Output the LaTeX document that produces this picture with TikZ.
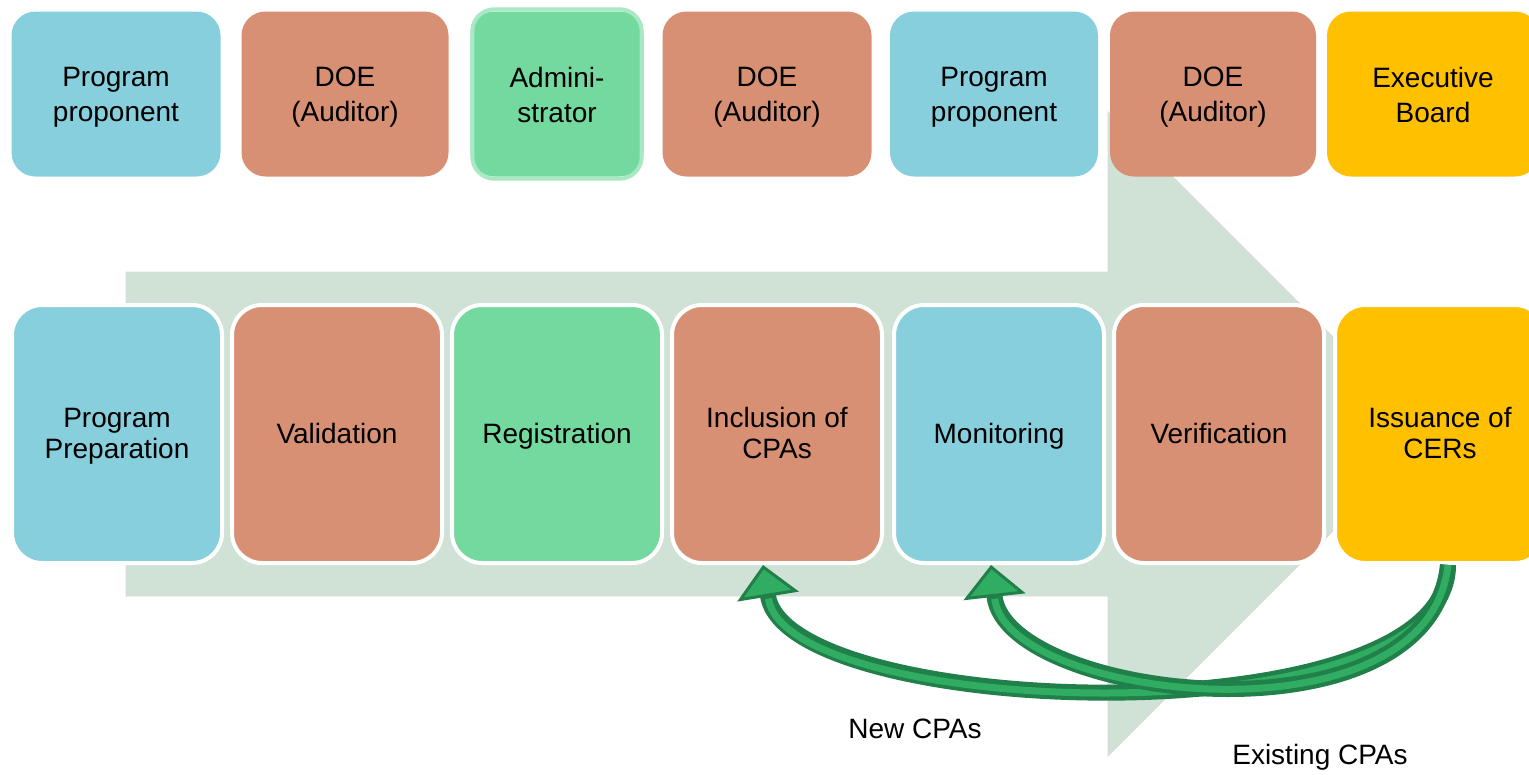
\documentclass[tikz,border=0pt]{standalone}
\usepackage{fontspec}
\setmainfont{Liberation Sans}
\usetikzlibrary{arrows.meta}

\definecolor{propblue}{HTML}{87CFDC}
\definecolor{doeorange}{HTML}{D79073}
\definecolor{admgreen}{HTML}{74D99F}
\definecolor{admrim}{HTML}{A8E8C3}
\definecolor{ebyellow}{HTML}{FFC000}
\definecolor{flowbg}{HTML}{CFE2D5}
\definecolor{loopdark}{HTML}{21804A}
\definecolor{looplight}{HTML}{30AD62}

\newcommand{\rolestrut}{\rule[-4pt]{0pt}{29pt}}
\newcommand{\stagestrut}{\rule[-6pt]{0pt}{30pt}}

\tikzset{
  role/.style={rounded corners=24pt, minimum height=165pt, inner sep=0pt,
    align=center, font=\fontsize{28}{35}\selectfont},
  stage/.style={rounded corners=30pt, draw=white, line width=4pt,
    minimum width=210pt, minimum height=258pt, inner sep=0pt,
    align=center, font=\fontsize{28}{31}\selectfont},
  loop/.style={loopdark, line width=16pt,
    -{Triangle[width=62pt,length=32pt,fill=looplight,line width=3pt]},
    postaction={draw=looplight, line width=7pt, shorten >=34pt, -}},
  lbl/.style={font=\fontsize{28}{32}\selectfont}
}

\begin{document}
\begin{tikzpicture}[x=1pt,y=-1pt]
\useasboundingbox (0,0) rectangle (1529,774);

% big background arrow
\fill[flowbg, draw=black!15, line width=0.8pt]
  (126,272) -- (1108,272) -- (1108,112) -- (1430,434)
  -- (1108,756) -- (1108,596) -- (126,596) -- cycle;

% who does it
\foreach \cx/\w/\col/\txt [count=\i] in
 {116/209/propblue/{Program\rolestrut\\proponent\rolestrut},
  345/207/doeorange/{DOE\rolestrut\\(Auditor)\rolestrut},
  557/173/admgreen/{Admini-\rolestrut\\strator\rolestrut},
  767/209/doeorange/{DOE\rolestrut\\(Auditor)\rolestrut},
  994/208/propblue/{Program\rolestrut\\proponent\rolestrut},
  1213/206/doeorange/{DOE\rolestrut\\(Auditor)\rolestrut},
  1433/212/ebyellow/{Executive\rolestrut\\Board\rolestrut}}
 {\node[role, fill=\col, minimum width=\w pt] (r\i) at (\cx,94) {\txt};
 }
\draw[admrim, line width=4pt, rounded corners=22pt]
  ([shift={(2pt,-2pt)}]r3.south west) rectangle ([shift={(-2pt,2pt)}]r3.north east);

% what is done
\foreach \cx/\col/\txt [count=\i] in
 {117/propblue/{Program\stagestrut\\Preparation\stagestrut},
  337/doeorange/{Validation\stagestrut},
  557/admgreen/{Registration\stagestrut},
  777/doeorange/{Inclusion of\stagestrut\\CPAs\stagestrut},
  999/propblue/{Monitoring\stagestrut},
  1219/doeorange/{Verification\stagestrut},
  1440/ebyellow/{Issuance of\stagestrut\\CERs\stagestrut}}
 {\node[stage, fill=\col] (s\i) at (\cx,434) {\txt};
 }

% issuance loops back
\draw[loop] ([xshift=8pt]s7.south) .. controls +(0,175) and +(25,155) .. ([xshift=-14pt]s4.south);
\draw[loop] ([xshift=8pt]s7.south) .. controls +(-20,185) and +(15,135) .. ([xshift=-8pt]s5.south);

\node[lbl] (newcpa) at (915,729) {New CPAs};
\node[lbl] (oldcpa) at (1320,757) {Existing CPAs};

\end{tikzpicture}
\end{document}
